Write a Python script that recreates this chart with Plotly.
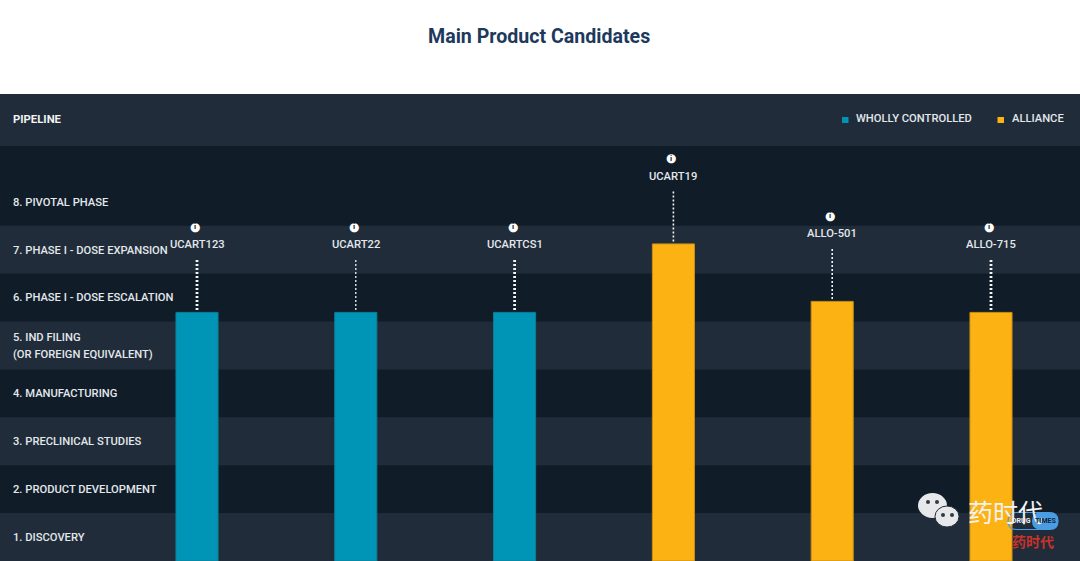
import plotly.graph_objects as go

# ---- data ----
CONTROLLED = ["UCART123", "UCART22", "UCARTCS1"]
CONTROLLED_VALUES = [5.19, 5.19, 5.19]
ALLIANCE = ["UCART19", "ALLO-501", "ALLO-715"]
ALLIANCE_VALUES = [6.62, 5.42, 5.19]
CANDIDATES = CONTROLLED + ALLIANCE
VALUES = CONTROLLED_VALUES + ALLIANCE_VALUES
DOT_WIDTHS = [2.8, 1.3, 2.8, 1.6, 1.6, 2.8]
PHASES = ["1. DISCOVERY", "2. PRODUCT DEVELOPMENT", "3. PRECLINICAL STUDIES",
          "4. MANUFACTURING", "5. IND FILING", "(OR FOREIGN EQUIVALENT)",
          "6. PHASE I - DOSE ESCALATION", "7. PHASE I - DOSE EXPANSION",
          "8. PIVOTAL PHASE"]
PHASE_POS = [0.5, 1.5, 2.5, 3.5, 4.68, 4.32, 5.5, 6.5, 7.5]

# ---- style / layout constants ----
W, H = 1080, 561
UNIT_X, X0 = 158.8, 197
UNIT_Y = 47.9
LIGHT, DARK = "#202c39", "#101c28"
TEAL, ORANGE = "#0095b6", "#fdb213"
TXT = "#e3e8ec"
FONT = "Roboto"
LABEL = dict(family=FONT, size=11.2, color=TXT, weight=500)

fig = go.Figure()

def px(x): return x / W
def py(y): return 1 - y / H

def paper_rect(x0, x1, y0, y1, **kw):
    return dict(type="rect", xref="paper", yref="paper", x0=px(x0), x1=px(x1), y0=py(y1), y1=py(y0), line_width=0, **kw)

def paper_circle(x0, x1, y0, y1, **kw):
    return dict(type="circle", xref="paper", yref="paper", x0=px(x0), x1=px(x1), y0=py(y1), y1=py(y0), **kw)

def paper_note(x, y, text, font, anchor="center"):
    return dict(xref="paper", yref="paper", x=px(x), y=py(y), xanchor=anchor, yanchor="middle",
                text=text, showarrow=False, font=font, borderpad=0, borderwidth=0)

def pill_path(x0, x1, y0, y1):
    r = (y1 - y0) / 2
    X = lambda v: f"{px(v):.5f}"
    Y = lambda v: f"{py(v):.5f}"
    return (f"M {X(x0 + r)} {Y(y0)} L {X(x1 - r)} {Y(y0)} Q {X(x1)} {Y(y0)} {X(x1)} {Y(y0 + r)} "
            f"Q {X(x1)} {Y(y1)} {X(x1 - r)} {Y(y1)} L {X(x0 + r)} {Y(y1)} "
            f"Q {X(x0)} {Y(y1)} {X(x0)} {Y(y0 + r)} Q {X(x0)} {Y(y0)} {X(x0 + r)} {Y(y0)} Z")

shapes = [
    paper_rect(0, W, 94, 146, fillcolor=LIGHT, layer="below"),
    paper_rect(0, W, 146, H, fillcolor=DARK, layer="below"),
]
for i in range(0, 8, 2):
    shapes.append(dict(type="rect", xref="paper", yref="y", x0=0, x1=1, y0=i, y1=i + 1,
                       fillcolor=LIGHT, line_width=0, layer="below"))

fig.add_trace(go.Bar(x=CONTROLLED, y=CONTROLLED_VALUES, name="WHOLLY CONTROLLED",
                     marker=dict(color=TEAL, line=dict(color="#0c7f99", width=1)),
                     width=0.265, showlegend=False))
fig.add_trace(go.Bar(x=ALLIANCE, y=ALLIANCE_VALUES, name="ALLIANCE",
                     marker=dict(color=ORANGE, line=dict(color="#c98f14", width=1)),
                     width=0.265, showlegend=False))

annotations = []
for name, v, dw in zip(CANDIDATES, VALUES, DOT_WIDTHS):
    fig.add_trace(go.Scatter(x=[name, name], y=[v + 0.05, v + 1.12], mode="lines",
                             line=dict(color="#f2f4f5", width=dw, dash="2px,2px"),
                             showlegend=False, hoverinfo="skip"))
    annotations.append(dict(x=name, y=v, yref="y", text=name, showarrow=False, yshift=67.5,
                            xanchor="center", yanchor="middle", font=LABEL))
    annotations.append(dict(x=name, y=v, yref="y", text="●", showarrow=False, yshift=85.5, xshift=-2,
                            xanchor="center", yanchor="middle",
                            font=dict(family="DejaVu Sans", size=12, color="#ffffff")))
    annotations.append(dict(x=name, y=v, yref="y", text="<b>i</b>", showarrow=False, yshift=85.5, xshift=-2,
                            xanchor="center", yanchor="middle",
                            font=dict(family=FONT, size=8, color=DARK)))

annotations.append(paper_note(539, 36, "<b>Main Product Candidates</b>",
                              dict(family=FONT, size=19.6, color="#1d3a5c")))
annotations.append(paper_note(12.5, 119, "<b>PIPELINE</b>",
                              dict(family=FONT, size=11.3, color="#f0f2f4"), "left"))

# legend (header strip)
for sx, tx, color, label in [(842, 855.5, TEAL, "WHOLLY CONTROLLED"), (997.5, 1011.5, ORANGE, "ALLIANCE")]:
    shapes.append(paper_rect(sx, sx + 6.5, 117, 123, fillcolor=color))
    annotations.append(paper_note(tx, 118, label, LABEL, "left"))

# watermark
shapes += [
    paper_circle(918, 947, 493, 518, fillcolor="#e6e8ea", line_width=0),
    paper_circle(935, 959, 506, 527, fillcolor="#e6e8ea", line=dict(color=LIGHT, width=1)),
    paper_circle(926, 930, 500, 504, fillcolor="#33393f", line_width=0),
    paper_circle(935, 939, 500, 504, fillcolor="#33393f", line_width=0),
    paper_circle(941, 945, 513, 517, fillcolor="#33393f", line_width=0),
    paper_circle(950, 954, 513, 517, fillcolor="#33393f", line_width=0),
    dict(type="path", xref="paper", yref="paper", path=pill_path(1008, 1058, 512.5, 529.5),
         fillcolor="rgba(0,0,0,0)", line=dict(color="#4a9de0", width=1.2)),
    dict(type="path", xref="paper", yref="paper", path=pill_path(1032, 1058, 512.5, 529.5),
         fillcolor="#4a9de0", line_width=0),
]
annotations += [
    paper_note(1005, 511, "药时代", dict(family="Noto Sans CJK SC", size=25, color="#f2f2f2")),
    paper_note(1021, 521, "<b>DRUG</b>", dict(family=FONT, size=7, color="#e8f0f8")),
    paper_note(1045, 521, "<b>TIMES</b>", dict(family=FONT, size=7, color="#10243a")),
    paper_note(1033, 541, "<b>药时代</b>", dict(family="Noto Sans CJK SC", size=14, color="#c8322a")),
]

fig.update_layout(
    width=W, height=H, autosize=False,
    margin=dict(l=0, r=0, t=0, b=0),
    paper_bgcolor="white", plot_bgcolor="white",
    barmode="overlay", shapes=shapes, annotations=annotations, showlegend=False,
    xaxis=dict(type="category", categoryorder="array", categoryarray=CANDIDATES,
               range=[-X0 / UNIT_X, (W - X0) / UNIT_X], visible=False, fixedrange=True),
    yaxis=dict(range=[0, H / UNIT_Y], tickmode="array", tickvals=PHASE_POS, ticktext=PHASES,
               ticklabelposition="inside", ticklabelstandoff=10, ticks="", showgrid=False, zeroline=False,
               showline=False, tickfont=LABEL, fixedrange=True),
)

fig.write_html("out.html", post_script="document.body.style.margin='0';document.documentElement.style.overflow='hidden';",
               config=dict(displayModeBar=False))
